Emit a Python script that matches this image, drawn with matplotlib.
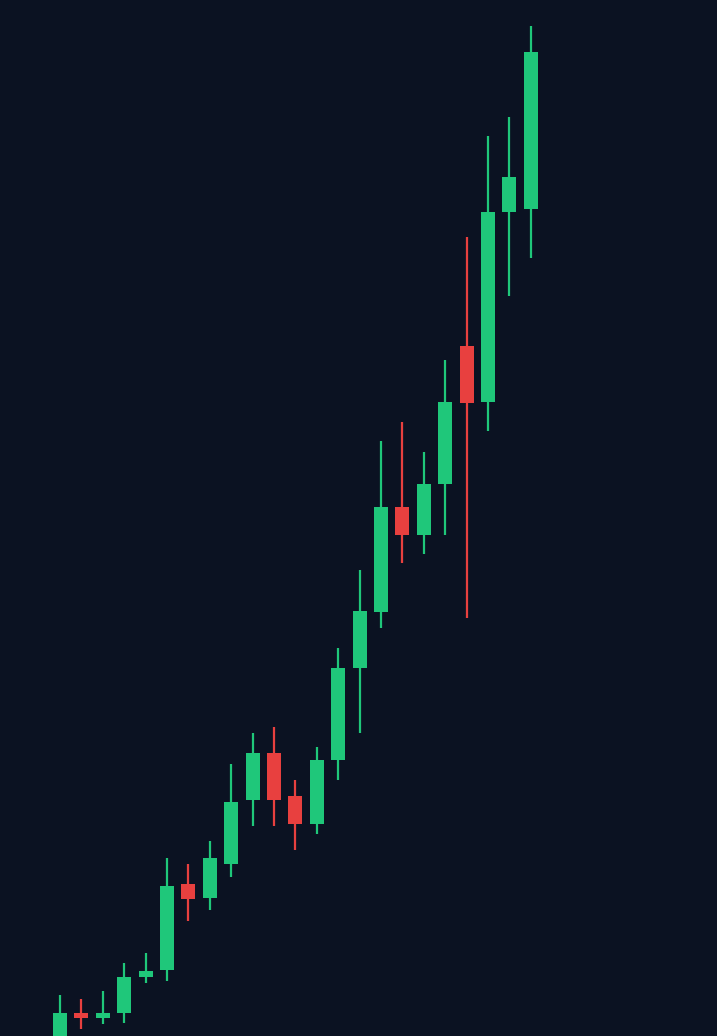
import matplotlib
matplotlib.use("Agg")
import matplotlib.pyplot as plt
from matplotlib.patches import Rectangle

BG = "#0b1222"
UP = "#1fc77a"
DOWN = "#e8403f"

# OHLC (arbitrary price units)
opens = [-9, 23.3, 18, 23.3, 58.7, 66, 151.7, 137.7, 171.7, 236, 282.7, 239.7,
         212, 276, 367.7, 423.7, 529.3, 501, 551.7, 690, 634.3, 823.7, 827]
closes = [23.3, 17.7, 23.3, 59.3, 65.3, 150, 136.7, 178.3, 234.3, 283.3, 236, 211.7,
          276, 367.7, 425.3, 529.3, 501, 552, 634.3, 633.3, 823.7, 858.7, 983.7]
highs = [41, 37, 45, 73.3, 83.3, 178, 172, 194.7, 271.7, 302.7, 308.7, 256,
         289.3, 387.7, 466, 595, 614.3, 584.3, 676, 798.7, 900, 918.7, 1010]
lows = [-20, 7, 12, 13, 53.3, 55.3, 114.7, 126, 158.7, 210.3, 210.3, 186,
        202, 256, 303.3, 408.3, 472.7, 482, 501, 417.7, 605.3, 740, 777.7]


def draw_candles(ax, o, c, h, l, width=0.65):
    for i in range(len(o)):
        color = UP if c[i] >= o[i] else DOWN
        ax.vlines(i, l[i], h[i], color=color, linewidth=1.6, zorder=2)
        bottom = min(o[i], c[i])
        height = max(abs(c[i] - o[i]), 1.0)
        ax.add_patch(Rectangle((i - width / 2, bottom), width, height,
                               facecolor=color, edgecolor="none", zorder=3))


fig = plt.figure(figsize=(7.17, 10.36), dpi=100)
fig.patch.set_facecolor(BG)
ax = fig.add_axes([0, 0, 1, 1])
ax.set_facecolor(BG)
draw_candles(ax, opens, closes, highs, lows)
ax.set_xlim(-60 / 21.4, (717 - 60) / 21.4)
ax.set_ylim(0, 1036)
ax.axis("off")
fig.savefig("out.png", dpi=100, facecolor=BG)
